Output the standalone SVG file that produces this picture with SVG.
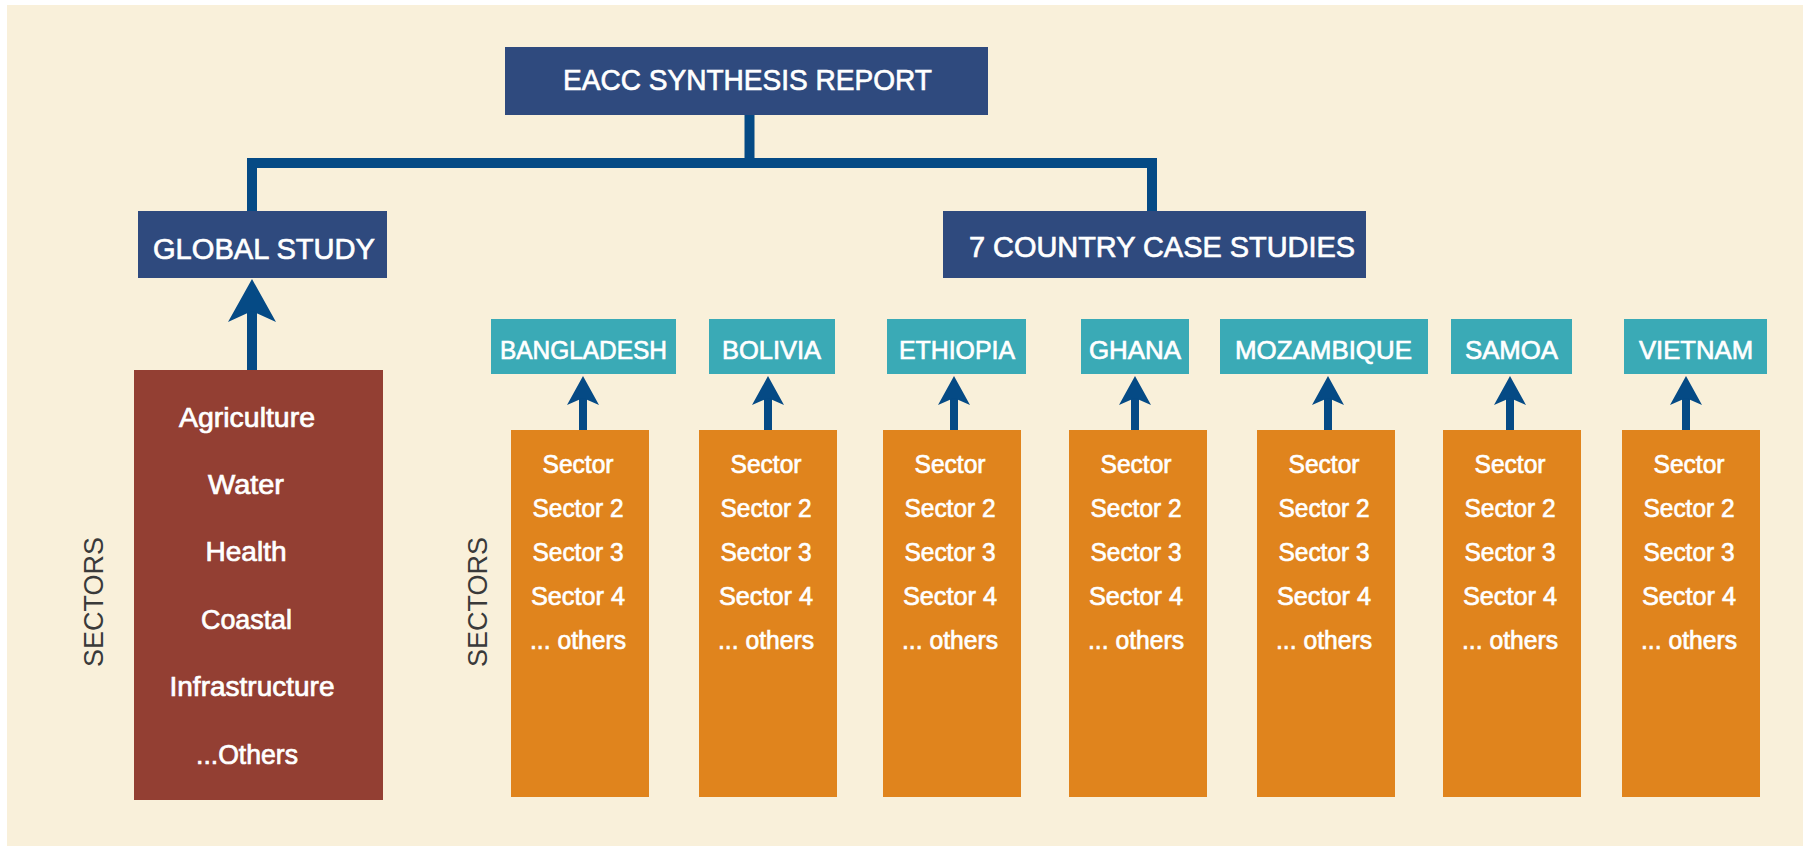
<svg xmlns="http://www.w3.org/2000/svg" width="1808" height="846" viewBox="0 0 1808 846">
  <defs>
    <style>
      .bg { fill: #F9F0DA; }
      .navy { fill: #2F4A7E; }
      .teal { fill: #3AAAB6; }
      .orange { fill: #E0841D; }
      .brown { fill: #933F33; }
      .wt { fill: #FFFFFF; stroke: #FFFFFF; stroke-width: 0.7px; font-family: "Liberation Sans", Arial, sans-serif; text-anchor: middle; }
      .h { font-size: 30px; }
      .c { font-size: 26px; }
      .s { font-size: 26px; }
      .b { font-size: 27px; }
      .side { fill: #3A3A3A; font-family: "Liberation Sans", Arial, sans-serif; font-size: 27px; text-anchor: middle; }
      .conn { fill: none; stroke: #054A85; stroke-width: 10; stroke-linejoin: miter; stroke-linecap: butt; }
      .arr-l { fill: none; stroke: #054A85; stroke-width: 10; marker-end: url(#head-l); }
      .arr-s { fill: none; stroke: #054A85; stroke-width: 8; marker-end: url(#head-s); }
    </style>
    <marker id="head-l" markerUnits="userSpaceOnUse" viewBox="-12 -25 45 50" markerWidth="45" markerHeight="50" refX="0" refY="0" orient="auto">
      <path d="M32,0 L-11,24 L0,0 L-11,-24 Z" fill="#054A85"/>
    </marker>
    <marker id="head-s" markerUnits="userSpaceOnUse" viewBox="-8 -17 31 34" markerWidth="31" markerHeight="34" refX="0" refY="0" orient="auto">
      <path d="M22,0 L-7,16 L0,0 L-7,-16 Z" fill="#054A85"/>
    </marker>
  </defs>

  <rect width="1808" height="846" fill="#FFFFFF"/>
  <rect class="bg" x="7" y="5" width="1796" height="841"/>

  <!-- connectors -->
  <g id="connectors">
    <path class="conn" d="M749.5,115 V163"/>
    <path class="conn" d="M252,211 V163 H1152 V211"/>
    <path class="arr-l" d="M252,370 V311"/>
    <path class="arr-s" d="M583,430 V398"/>
    <path class="arr-s" d="M768,430 V398"/>
    <path class="arr-s" d="M954,430 V398"/>
    <path class="arr-s" d="M1135,430 V398"/>
    <path class="arr-s" d="M1328,430 V398"/>
    <path class="arr-s" d="M1510,430 V398"/>
    <path class="arr-s" d="M1686,430 V398"/>
  </g>

  <!-- top level -->
  <g id="synthesis-report">
    <rect class="navy" x="505" y="47" width="483" height="68"/>
    <text class="wt h" x="747.5" y="90" textLength="369" lengthAdjust="spacingAndGlyphs">EACC SYNTHESIS REPORT</text>
  </g>

  <g id="global-study">
    <rect class="navy" x="138" y="211" width="249" height="67"/>
    <text class="wt h" x="264" y="259" textLength="222" lengthAdjust="spacingAndGlyphs">GLOBAL STUDY</text>
  </g>

  <g id="country-case-studies">
    <rect class="navy" x="943" y="211" width="423" height="67"/>
    <text class="wt h" x="1162" y="257" textLength="386" lengthAdjust="spacingAndGlyphs">7 COUNTRY CASE STUDIES</text>
  </g>

  <!-- global sectors -->
  <g id="global-sectors">
    <rect class="brown" x="134" y="370" width="249" height="430"/>
    <text class="wt b" x="247" y="427" textLength="136" lengthAdjust="spacingAndGlyphs">Agriculture</text>
    <text class="wt b" x="246" y="494" textLength="76" lengthAdjust="spacingAndGlyphs">Water</text>
    <text class="wt b" x="246" y="561" textLength="81" lengthAdjust="spacingAndGlyphs">Health</text>
    <text class="wt b" x="246.5" y="629" textLength="91" lengthAdjust="spacingAndGlyphs">Coastal</text>
    <text class="wt b" x="252" y="696" textLength="165" lengthAdjust="spacingAndGlyphs">Infrastructure</text>
    <text class="wt b" x="247" y="764" textLength="102" lengthAdjust="spacingAndGlyphs">...Others</text>
  </g>

  <g id="sectors-label-global">
    <text class="side" transform="translate(103,602) rotate(-90)">SECTORS</text>
  </g>
  <g id="sectors-label-country">
    <text class="side" transform="translate(487,602) rotate(-90)">SECTORS</text>
  </g>

  <!-- countries -->
  <g id="bangladesh">
    <rect class="teal" x="491" y="319" width="185" height="55"/>
    <text class="wt c" x="583.5" y="359" textLength="167" lengthAdjust="spacingAndGlyphs">BANGLADESH</text>
    <rect class="orange" x="511" y="430" width="138" height="367"/>
    <text class="wt s" x="578" y="473" textLength="71" lengthAdjust="spacingAndGlyphs">Sector</text>
    <text class="wt s" x="578" y="517" textLength="91" lengthAdjust="spacingAndGlyphs">Sector 2</text>
    <text class="wt s" x="578" y="561" textLength="91" lengthAdjust="spacingAndGlyphs">Sector 3</text>
    <text class="wt s" x="578" y="605" textLength="94" lengthAdjust="spacingAndGlyphs">Sector 4</text>
    <text class="wt s" x="578" y="649" textLength="96" lengthAdjust="spacingAndGlyphs">... others</text>
  </g>

  <g id="bolivia">
    <rect class="teal" x="709" y="319" width="126" height="55"/>
    <text class="wt c" x="771.5" y="359" textLength="99" lengthAdjust="spacingAndGlyphs">BOLIVIA</text>
    <rect class="orange" x="699" y="430" width="138" height="367"/>
    <text class="wt s" x="766" y="473" textLength="71" lengthAdjust="spacingAndGlyphs">Sector</text>
    <text class="wt s" x="766" y="517" textLength="91" lengthAdjust="spacingAndGlyphs">Sector 2</text>
    <text class="wt s" x="766" y="561" textLength="91" lengthAdjust="spacingAndGlyphs">Sector 3</text>
    <text class="wt s" x="766" y="605" textLength="94" lengthAdjust="spacingAndGlyphs">Sector 4</text>
    <text class="wt s" x="766" y="649" textLength="96" lengthAdjust="spacingAndGlyphs">... others</text>
  </g>

  <g id="ethiopia">
    <rect class="teal" x="887" y="319" width="139" height="55"/>
    <text class="wt c" x="957" y="359" textLength="116" lengthAdjust="spacingAndGlyphs">ETHIOPIA</text>
    <rect class="orange" x="883" y="430" width="138" height="367"/>
    <text class="wt s" x="950" y="473" textLength="71" lengthAdjust="spacingAndGlyphs">Sector</text>
    <text class="wt s" x="950" y="517" textLength="91" lengthAdjust="spacingAndGlyphs">Sector 2</text>
    <text class="wt s" x="950" y="561" textLength="91" lengthAdjust="spacingAndGlyphs">Sector 3</text>
    <text class="wt s" x="950" y="605" textLength="94" lengthAdjust="spacingAndGlyphs">Sector 4</text>
    <text class="wt s" x="950" y="649" textLength="96" lengthAdjust="spacingAndGlyphs">... others</text>
  </g>

  <g id="ghana">
    <rect class="teal" x="1081" y="319" width="108" height="55"/>
    <text class="wt c" x="1135" y="359" textLength="92" lengthAdjust="spacingAndGlyphs">GHANA</text>
    <rect class="orange" x="1069" y="430" width="138" height="367"/>
    <text class="wt s" x="1136" y="473" textLength="71" lengthAdjust="spacingAndGlyphs">Sector</text>
    <text class="wt s" x="1136" y="517" textLength="91" lengthAdjust="spacingAndGlyphs">Sector 2</text>
    <text class="wt s" x="1136" y="561" textLength="91" lengthAdjust="spacingAndGlyphs">Sector 3</text>
    <text class="wt s" x="1136" y="605" textLength="94" lengthAdjust="spacingAndGlyphs">Sector 4</text>
    <text class="wt s" x="1136" y="649" textLength="96" lengthAdjust="spacingAndGlyphs">... others</text>
  </g>

  <g id="mozambique">
    <rect class="teal" x="1220" y="319" width="208" height="55"/>
    <text class="wt c" x="1323.5" y="359" textLength="177" lengthAdjust="spacingAndGlyphs">MOZAMBIQUE</text>
    <rect class="orange" x="1257" y="430" width="138" height="367"/>
    <text class="wt s" x="1324" y="473" textLength="71" lengthAdjust="spacingAndGlyphs">Sector</text>
    <text class="wt s" x="1324" y="517" textLength="91" lengthAdjust="spacingAndGlyphs">Sector 2</text>
    <text class="wt s" x="1324" y="561" textLength="91" lengthAdjust="spacingAndGlyphs">Sector 3</text>
    <text class="wt s" x="1324" y="605" textLength="94" lengthAdjust="spacingAndGlyphs">Sector 4</text>
    <text class="wt s" x="1324" y="649" textLength="96" lengthAdjust="spacingAndGlyphs">... others</text>
  </g>

  <g id="samoa">
    <rect class="teal" x="1451" y="319" width="121" height="55"/>
    <text class="wt c" x="1511.5" y="359" textLength="93" lengthAdjust="spacingAndGlyphs">SAMOA</text>
    <rect class="orange" x="1443" y="430" width="138" height="367"/>
    <text class="wt s" x="1510" y="473" textLength="71" lengthAdjust="spacingAndGlyphs">Sector</text>
    <text class="wt s" x="1510" y="517" textLength="91" lengthAdjust="spacingAndGlyphs">Sector 2</text>
    <text class="wt s" x="1510" y="561" textLength="91" lengthAdjust="spacingAndGlyphs">Sector 3</text>
    <text class="wt s" x="1510" y="605" textLength="94" lengthAdjust="spacingAndGlyphs">Sector 4</text>
    <text class="wt s" x="1510" y="649" textLength="96" lengthAdjust="spacingAndGlyphs">... others</text>
  </g>

  <g id="vietnam">
    <rect class="teal" x="1624" y="319" width="143" height="55"/>
    <text class="wt c" x="1696" y="359" textLength="114" lengthAdjust="spacingAndGlyphs">VIETNAM</text>
    <rect class="orange" x="1622" y="430" width="138" height="367"/>
    <text class="wt s" x="1689" y="473" textLength="71" lengthAdjust="spacingAndGlyphs">Sector</text>
    <text class="wt s" x="1689" y="517" textLength="91" lengthAdjust="spacingAndGlyphs">Sector 2</text>
    <text class="wt s" x="1689" y="561" textLength="91" lengthAdjust="spacingAndGlyphs">Sector 3</text>
    <text class="wt s" x="1689" y="605" textLength="94" lengthAdjust="spacingAndGlyphs">Sector 4</text>
    <text class="wt s" x="1689" y="649" textLength="96" lengthAdjust="spacingAndGlyphs">... others</text>
  </g>
</svg>
